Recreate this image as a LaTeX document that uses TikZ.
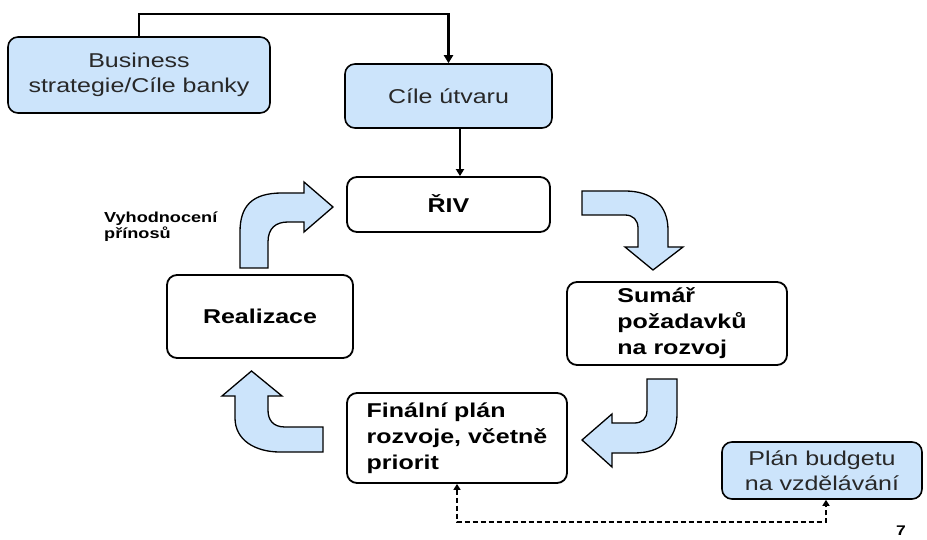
\documentclass[tikz,border=0pt]{standalone}
\usepackage{fontspec}
\setmainfont{Liberation Sans}[FakeStretch=1.25]
\usetikzlibrary{arrows.meta}
\definecolor{boxblue}{RGB}{204,228,251}
\definecolor{txtgray}{RGB}{40,40,40}

\begin{document}
\begin{tikzpicture}[x=1pt,y=-1pt,
  bluebox/.style={draw=black, line width=1.6pt, rounded corners=10pt, fill=boxblue,
    text=txtgray, font=\fontsize{20}{25}\selectfont, align=center, inner sep=0pt},
  whitebox/.style={draw=black, line width=1.8pt, rounded corners=10pt, fill=white,
    text=black, font=\bfseries\fontsize{20}{26}\selectfont, inner sep=0pt},
  blockarrow/.style={draw=black, line width=1.3pt, fill=boxblue, line join=miter},
  link/.style={draw=black, line width=1.7pt},
  tip/.style={-{Triangle[length=7pt,width=8pt]}},
]
% canvas
\fill[white] (0,0) rectangle (927,540);
\useasboundingbox (0,0) rectangle (927,540);

% boxes
\node[bluebox, minimum width=262pt, minimum height=76pt] (biz) at (139,75)
  {Business\\strategie/Cíle banky};
\node[bluebox, minimum width=207pt, minimum height=64pt] (cile) at (448.5,96)
  {Cíle útvaru};
\node[whitebox, minimum width=203pt, minimum height=55pt] (riv) at (448.5,204.5)
  {\raisebox{2pt}{ŘIV}};
\node[whitebox, minimum width=186pt, minimum height=83pt] (real) at (260,316.5)
  {Realizace};
\node[whitebox, minimum width=220pt, minimum height=83pt, align=left] (sum) at (677,323.5)
  {\hspace*{10pt}Sumář\\\hspace*{10pt}požadavků\\\hspace*{10pt}na rozvoj};
\node[whitebox, minimum width=220pt, minimum height=90pt, align=left] (fin) at (457,438)
  {Finální plán\\rozvoje, včetně\\priorit};
\node[bluebox, minimum width=200pt, minimum height=57pt] (plan) at (822,470.5)
  {Plán budgetu\\na vzdělávání};

% labels
\node[font=\bfseries\fontsize{14.5}{16}\selectfont, align=left, anchor=west, inner sep=0pt]
  (vyh) at (104,227) {Vyhodnocení\\přínosů};
\node[font=\bfseries\fontsize{14}{14}\selectfont, inner sep=0pt] (pg) at (901,531) {7};

% connectors
\draw[link, line width=2.4pt, -{Triangle[length=8pt,width=9pt]}]
  (biz.north) -- ++(0,-22) -| (cile.north);
\draw[link, tip] ([xshift=11.5pt]cile.south) -- ([xshift=11.5pt]riv.north);
\draw[link, dash pattern=on 5pt off 3pt,
  {Triangle[length=6pt,width=7pt]}-{Triangle[length=6pt,width=7pt]}]
  (fin.south) -- ++(0,38) -| ([xshift=4pt]plan.south);

% cycle arrows
% up, then right into the top box
\draw[blockarrow] (240,268) -- (240,232) .. controls (240,206) and (252,193) .. (282,193)
  -- (304,193) -- (304,182) -- (333,207) -- (304,232) -- (304,222) -- (288,222)
  .. controls (276,222) and (268,228) .. (268,242) -- (268,268) -- cycle;
% right, then down
\draw[blockarrow] (582,191) -- (625,191) .. controls (652,191) and (668,205) .. (668,230)
  -- (668,247) -- (683,247) -- (653,270) -- (625,247) -- (638,247) -- (638,228)
  .. controls (638,220) and (633,215) .. (625,215) -- (582,215) -- cycle;
% down, then left
\draw[blockarrow] (647,379) -- (677,379) -- (677,414) .. controls (677,440) and (660,453) .. (634,453)
  -- (612,453) -- (612,467) -- (582,440) -- (612,414) -- (612,423) -- (634,423)
  .. controls (642,423) and (647,419) .. (647,410) -- cycle;
% left, then up
\draw[blockarrow] (323,427) -- (285,427) .. controls (273,427) and (268,420) .. (268,410)
  -- (268,396) -- (282,396) -- (251.5,371) -- (222,396) -- (235,396) -- (235,418)
  .. controls (235,440) and (255,452) .. (280,452) -- (323,452) -- cycle;
\end{tikzpicture}
\end{document}
